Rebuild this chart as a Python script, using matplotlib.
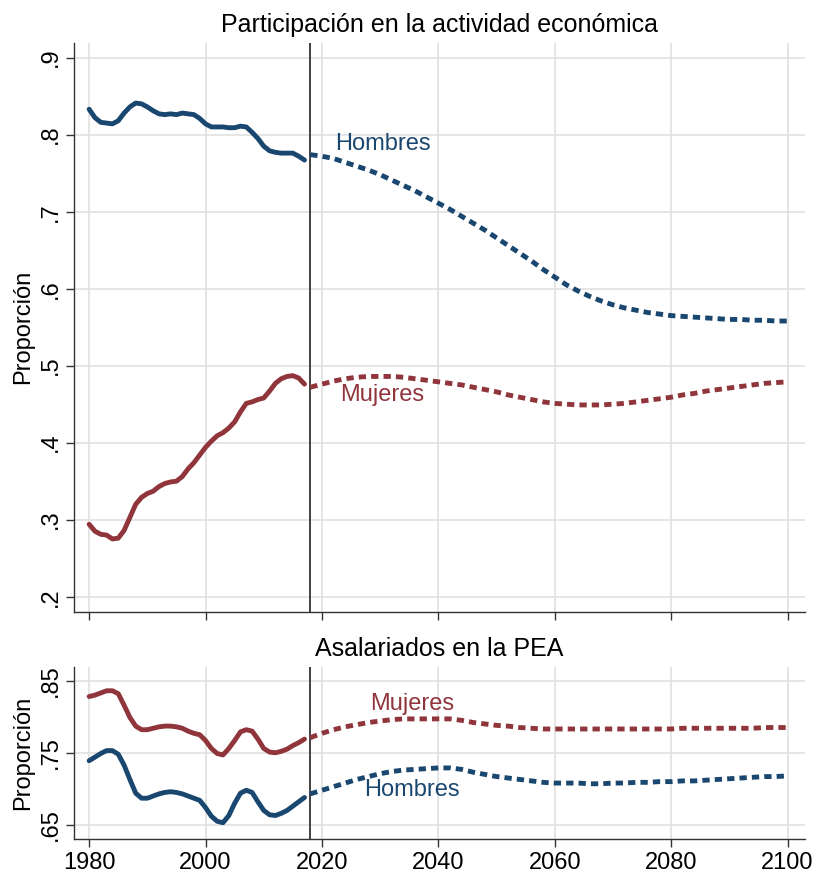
import matplotlib
matplotlib.use('Agg')
import matplotlib.pyplot as plt

plt.rcParams['font.family'] = ['Liberation Sans', 'DejaVu Sans']

NAVY = '#1a476f'
MAROON = '#90353b'

# historical series, 1980-2017
years_hist = list(range(1980, 2018))
part_h_hist = [.833, .822, .816, .815, .814, .818, .828, .836, .841, .840,
               .836, .831, .827, .826, .827, .826, .828, .827, .826, .821,
               .814, .810, .810, .810, .809, .809, .811, .810, .803, .795,
               .785, .779, .777, .776, .776, .776, .772, .767]
part_m_hist = [.294, .285, .281, .280, .275, .276, .286, .303, .320, .329,
               .334, .337, .343, .347, .349, .350, .356, .366, .374, .384,
               .394, .402, .409, .413, .419, .427, .440, .451, .453, .456,
               .458, .467, .477, .483, .486, .487, .484, .476]
asal_m_hist = [.828, .830, .833, .836, .836, .832, .816, .799, .787, .782,
               .782, .784, .786, .787, .787, .786, .784, .780, .777, .775,
               .767, .756, .749, .747, .756, .767, .779, .782, .780, .769,
               .756, .751, .750, .752, .755, .760, .764, .769]
asal_h_hist = [.739, .744, .749, .753, .753, .748, .733, .713, .694, .687,
               .687, .690, .693, .695, .696, .695, .693, .690, .687, .684,
               .674, .662, .655, .653, .663, .680, .694, .698, .695, .682,
               .670, .664, .663, .666, .670, .676, .682, .688]

# projections, 2018-2100 every two years
years_proj = list(range(2018, 2101, 2))
part_h_proj = [.774, .772, .769, .764, .759, .754, .748, .741, .734, .727,
               .719, .711, .703, .694, .685, .676, .666, .656, .646, .636,
               .625, .615, .605, .597, .590, .584, .579, .575, .572, .569,
               .567, .565, .564, .563, .562, .561, .560, .560, .559, .559,
               .558, .558]
part_m_proj = [.472, .476, .480, .483, .485, .486, .486, .486, .485, .483,
               .481, .479, .477, .475, .472, .469, .466, .462, .459, .456,
               .453, .451, .450, .449, .449, .449, .450, .451, .453, .455,
               .457, .459, .462, .464, .467, .469, .471, .473, .475, .477,
               .478, .479]
asal_m_proj = [.771, .777, .782, .786, .789, .792, .794, .796, .797, .797,
               .797, .797, .797, .795, .792, .790, .788, .787, .785, .784,
               .783, .783, .783, .783, .783, .783, .783, .783, .783, .783,
               .783, .783, .784, .784, .784, .784, .784, .784, .784, .785,
               .785, .785]
asal_h_proj = [.693, .698, .703, .708, .713, .717, .721, .724, .726, .727,
               .728, .729, .729, .727, .723, .720, .717, .715, .713, .711,
               .709, .708, .708, .708, .707, .707, .708, .708, .709, .709,
               .710, .710, .711, .711, .712, .713, .714, .715, .716, .717,
               .717, .718]

xticks = [1980, 2000, 2020, 2040, 2060, 2080, 2100]
top_yticks = [.2, .3, .4, .5, .6, .7, .8, .9]
top_ylabels = ['.2', '.3', '.4', '.5', '.6', '.7', '.8', '.9']
bot_yticks = [.65, .75, .85]
bot_ylabels = ['.65', '.75', '.85']
cut_year = 2018

FS = 17
TITLE_FS = 18
dotted = (0, (1.5, 1.05))


def style_axes(ax):
    for side in ['top', 'right']:
        ax.spines[side].set_visible(False)
    for side in ['left', 'bottom']:
        ax.spines[side].set_color('#333333')
        ax.spines[side].set_linewidth(1.0)
    ax.set_xlim(1977.4, 2103.0)
    ax.set_xticks(xticks)
    ax.grid(True, color='#e0e0e0', linewidth=1.2)
    ax.set_axisbelow(True)
    ax.tick_params(direction='out', length=6, width=1.0, color='#333333',
                   labelsize=FS, pad=3)
    ax.axvline(cut_year, color='#333333', linewidth=1.3, zorder=2)


fig = plt.figure(figsize=(8.17, 8.74), dpi=100)
ax1 = fig.add_axes([0.0906, 0.3001, 0.8947, 0.6507])
ax2 = fig.add_axes([0.0906, 0.0397, 0.8947, 0.1975])

# participation
style_axes(ax1)
ax1.plot(years_hist, part_h_hist, color=NAVY, lw=3.5, solid_capstyle='round')
ax1.plot(years_hist, part_m_hist, color=MAROON, lw=3.5, solid_capstyle='round')
ax1.plot(years_proj, part_h_proj, color=NAVY, lw=3.5, linestyle=dotted,
         dash_capstyle='butt')
ax1.plot(years_proj, part_m_proj, color=MAROON, lw=3.5, linestyle=dotted,
         dash_capstyle='butt')
ax1.set_ylim(0.1805, 0.919)
ax1.set_yticks(top_yticks)
ax1.set_yticklabels(top_ylabels, rotation=90, va='center')
ax1.tick_params(axis='x', labelbottom=False)
ax1.set_ylabel('Proporción', fontsize=FS, labelpad=4)
ax1.set_title('Participación en la actividad económica', fontsize=TITLE_FS, pad=8)
ax1.text(2022.2, 0.788, 'Hombres', color=NAVY, fontsize=FS, va='center')
ax1.text(2023.2, 0.462, 'Mujeres', color=MAROON, fontsize=FS, va='center')

# wage earners
style_axes(ax2)
ax2.plot(years_hist, asal_m_hist, color=MAROON, lw=3.5, solid_capstyle='round')
ax2.plot(years_hist, asal_h_hist, color=NAVY, lw=3.5, solid_capstyle='round')
ax2.plot(years_proj, asal_m_proj, color=MAROON, lw=3.5, linestyle=dotted,
         dash_capstyle='butt')
ax2.plot(years_proj, asal_h_proj, color=NAVY, lw=3.5, linestyle=dotted,
         dash_capstyle='butt')
ax2.set_ylim(0.630, 0.8694)
ax2.set_yticks(bot_yticks)
ax2.set_yticklabels(bot_ylabels, rotation=90, va='center')
ax2.set_ylabel('Proporción', fontsize=FS, labelpad=4)
ax2.set_title('Asalariados en la PEA', fontsize=TITLE_FS, pad=8)
ax2.text(2028.2, 0.8176, 'Mujeres', color=MAROON, fontsize=FS, va='center')
ax2.text(2027.2, 0.698, 'Hombres', color=NAVY, fontsize=FS, va='center')

fig.savefig('out.png', dpi=100)
